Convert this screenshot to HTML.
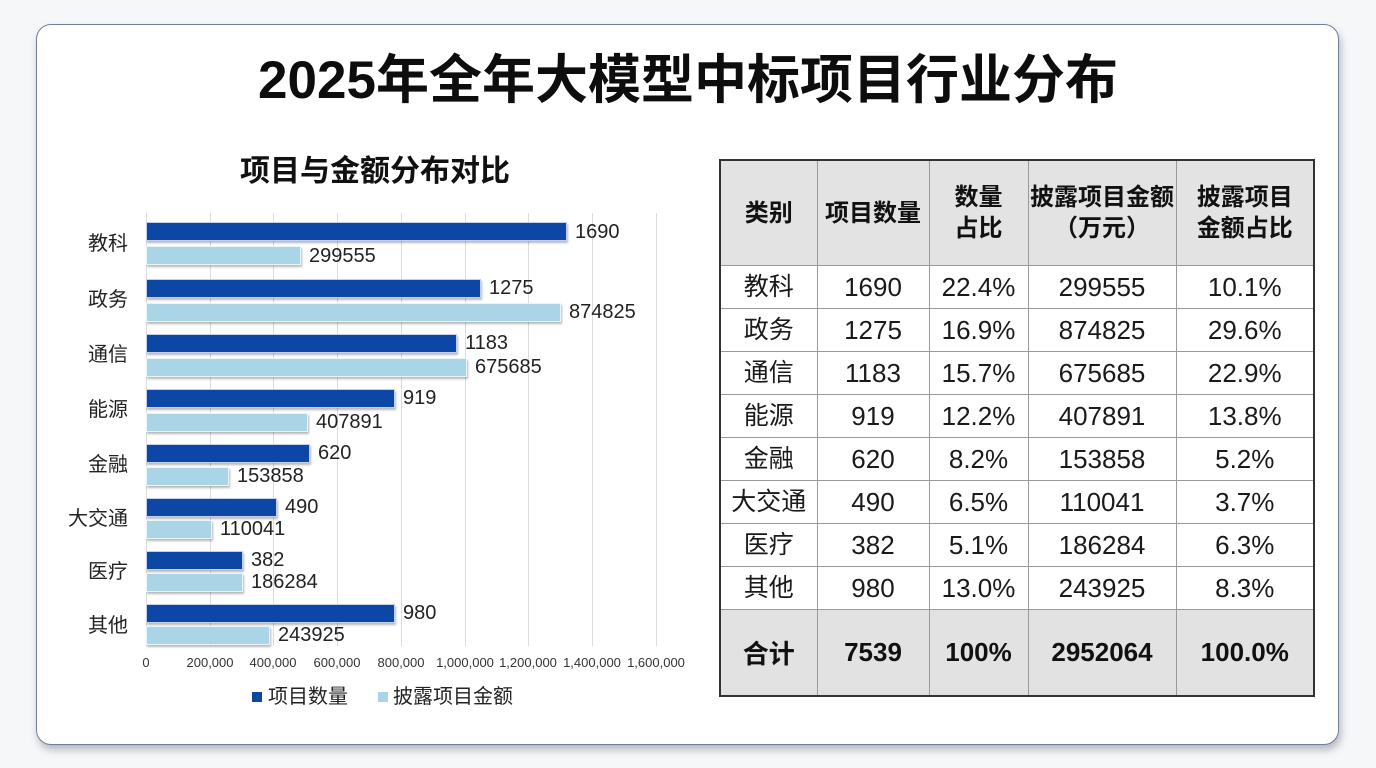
<!DOCTYPE html>
<html><head><meta charset="utf-8">
<style>
html,body{margin:0;padding:0;}
body{width:1376px;height:768px;background:#f6f7f9;position:relative;overflow:hidden;font-family:"Liberation Sans","Noto Sans CJK SC",sans-serif;color:#1a1a1a;}
.card{position:absolute;left:36px;top:24px;width:1301px;height:719px;background:#fff;border:1.5px solid #6e7f9c;border-radius:15px;box-shadow:2px 5px 8px rgba(60,70,90,0.35);}
.title{position:absolute;left:0;width:1376px;top:46px;text-align:center;font-size:53px;font-weight:bold;line-height:70px;color:#0d0d0d;}
.sub{position:absolute;left:175px;width:400px;top:152px;text-align:center;font-size:30px;font-weight:bold;line-height:40px;color:#111;}
.grid{position:absolute;top:213px;height:433px;width:1px;background:#dcdcdc;}
.bar{position:absolute;left:146px;height:19px;box-sizing:border-box;border:1px solid rgba(255,255,255,0.75);box-shadow:1px 2px 2px rgba(0,0,0,0.28);}
.d{background:#0d47a5;}
.l{background:#a9d5e7;}
.val{position:absolute;font-size:20px;line-height:20px;height:20px;color:#222;white-space:nowrap;}
.cat{position:absolute;right:1248px;font-size:20px;line-height:24px;color:#222;white-space:nowrap;text-align:right;}
.tick{position:absolute;top:654px;font-size:13px;line-height:18px;color:#333;width:80px;margin-left:-40px;text-align:center;}
.leg{position:absolute;top:686px;font-size:20px;line-height:22px;color:#222;}
.sq{position:absolute;width:10px;height:10px;top:692px;}
table{position:absolute;left:719px;top:159px;border-collapse:collapse;border:2px solid #333;}
td{border:1.5px solid #9a9a9a;text-align:center;padding:0;font-size:26px;color:#1a1a1a;}
tr.h td{background:#e3e3e3;font-weight:bold;font-size:24px;line-height:31px;height:104px;color:#111;}
tr.r td{height:42px;line-height:30px;}
tr.r td.c{font-size:25px;}
tr.t td{background:#e2e2e2;font-weight:bold;height:85px;font-size:26px;color:#111;}
</style></head><body>
<div class="card"></div>
<div class="title">2025年全年大模型中标项目行业分布</div>
<div class="sub">项目与金额分布对比</div>

<div class="grid" style="left:146px"></div>
<div class="grid" style="left:210px"></div>
<div class="grid" style="left:273px"></div>
<div class="grid" style="left:337px"></div>
<div class="grid" style="left:401px"></div>
<div class="grid" style="left:465px"></div>
<div class="grid" style="left:528px"></div>
<div class="grid" style="left:592px"></div>
<div class="grid" style="left:656px"></div>

<div class="bar d" style="top:222px;width:421px"></div>
<div class="bar l" style="top:246px;width:155px"></div>
<div class="bar d" style="top:279px;width:335px"></div>
<div class="bar l" style="top:303px;width:415px"></div>
<div class="bar d" style="top:334px;width:311px"></div>
<div class="bar l" style="top:358px;width:321px"></div>
<div class="bar d" style="top:389px;width:249px"></div>
<div class="bar l" style="top:413px;width:162px"></div>
<div class="bar d" style="top:444px;width:164px"></div>
<div class="bar l" style="top:467px;width:83px"></div>
<div class="bar d" style="top:498px;width:131px"></div>
<div class="bar l" style="top:520px;width:66px"></div>
<div class="bar d" style="top:551px;width:97px"></div>
<div class="bar l" style="top:573px;width:97px"></div>
<div class="bar d" style="top:604px;width:249px"></div>
<div class="bar l" style="top:626px;width:124px"></div>

<div class="val" style="left:575px;top:222px">1690</div>
<div class="val" style="left:309px;top:246px">299555</div>
<div class="val" style="left:489px;top:278px">1275</div>
<div class="val" style="left:569px;top:302px">874825</div>
<div class="val" style="left:465px;top:333px">1183</div>
<div class="val" style="left:475px;top:357px">675685</div>
<div class="val" style="left:403px;top:388px">919</div>
<div class="val" style="left:316px;top:412px">407891</div>
<div class="val" style="left:318px;top:443px">620</div>
<div class="val" style="left:237px;top:466px">153858</div>
<div class="val" style="left:285px;top:497px">490</div>
<div class="val" style="left:220px;top:519px">110041</div>
<div class="val" style="left:251px;top:550px">382</div>
<div class="val" style="left:251px;top:572px">186284</div>
<div class="val" style="left:403px;top:603px">980</div>
<div class="val" style="left:278px;top:625px">243925</div>

<div class="cat" style="top:232px">教科</div>
<div class="cat" style="top:288px">政务</div>
<div class="cat" style="top:343px">通信</div>
<div class="cat" style="top:398px">能源</div>
<div class="cat" style="top:453px">金融</div>
<div class="cat" style="top:507px">大交通</div>
<div class="cat" style="top:560px">医疗</div>
<div class="cat" style="top:614px">其他</div>

<div class="tick" style="left:146px">0</div>
<div class="tick" style="left:210px">200,000</div>
<div class="tick" style="left:273px">400,000</div>
<div class="tick" style="left:337px">600,000</div>
<div class="tick" style="left:401px">800,000</div>
<div class="tick" style="left:465px">1,000,000</div>
<div class="tick" style="left:528px">1,200,000</div>
<div class="tick" style="left:592px">1,400,000</div>
<div class="tick" style="left:656px">1,600,000</div>

<div class="sq" style="left:252px;background:#0d47a5"></div>
<div class="leg" style="left:268px">项目数量</div>
<div class="sq" style="left:378px;background:#a9d5e7"></div>
<div class="leg" style="left:393px">披露项目金额</div>

<table>
<colgroup><col style="width:97px"><col style="width:112px"><col style="width:99px"><col style="width:148px"><col style="width:138px"></colgroup>
<tr class="h"><td>类别</td><td>项目数量</td><td>数量<br>占比</td><td>披露项目金额<br>（万元）</td><td>披露项目<br>金额占比</td></tr>
<tr class="r"><td class="c">教科</td><td>1690</td><td>22.4%</td><td>299555</td><td>10.1%</td></tr>
<tr class="r"><td class="c">政务</td><td>1275</td><td>16.9%</td><td>874825</td><td>29.6%</td></tr>
<tr class="r"><td class="c">通信</td><td>1183</td><td>15.7%</td><td>675685</td><td>22.9%</td></tr>
<tr class="r"><td class="c">能源</td><td>919</td><td>12.2%</td><td>407891</td><td>13.8%</td></tr>
<tr class="r"><td class="c">金融</td><td>620</td><td>8.2%</td><td>153858</td><td>5.2%</td></tr>
<tr class="r"><td class="c">大交通</td><td>490</td><td>6.5%</td><td>110041</td><td>3.7%</td></tr>
<tr class="r"><td class="c">医疗</td><td>382</td><td>5.1%</td><td>186284</td><td>6.3%</td></tr>
<tr class="r"><td class="c">其他</td><td>980</td><td>13.0%</td><td>243925</td><td>8.3%</td></tr>
<tr class="t"><td>合计</td><td>7539</td><td>100%</td><td>2952064</td><td>100.0%</td></tr>
</table>
</body></html>
